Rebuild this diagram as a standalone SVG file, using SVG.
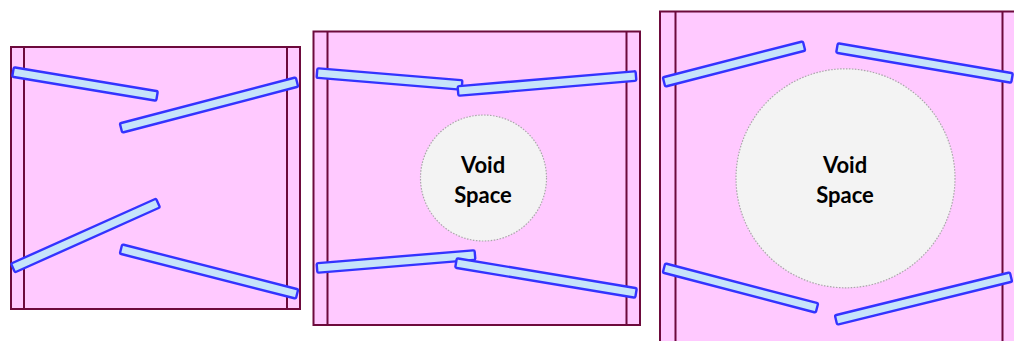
<svg xmlns="http://www.w3.org/2000/svg" width="1014" height="341" viewBox="0 0 1014 341">
  <style>
    .frame { fill: #ffc9ff; stroke: #6d0a3c; stroke-width: 2; }
    .rail { stroke: #6d0a3c; stroke-width: 2; }
    .bar { fill: #c6e4fa; stroke: #3333ff; stroke-width: 2.4; }
    .void { fill: #f3f3f3; stroke: #a8a8a8; stroke-width: 1.2; stroke-dasharray: 1.5 1.5; }
    .label { font-family: Lato, "Open Sans", sans-serif; font-weight: bold; font-size: 22px; fill: #000; text-anchor: middle; }
  </style>

  <!-- Left panel: four bars crossing freely -->
  <g id="panel-1">
    <rect class="frame" x="11" y="47" width="289" height="262"/>
    <line class="rail" x1="24" y1="47" x2="24" y2="309"/>
    <line class="rail" x1="287" y1="47" x2="287" y2="309"/>
    <rect class="bar" x="0" y="-4.8" width="146" height="9.6" rx="1.5" transform="translate(13 72) rotate(9.46)"/>
    <rect class="bar" x="0" y="-4.8" width="181.9" height="9.6" rx="1.5" transform="translate(121 128) rotate(-14.65)"/>
    <rect class="bar" x="0" y="-4.8" width="158.9" height="9.6" rx="1.5" transform="translate(13 268) rotate(-24.15)"/>
    <rect class="bar" x="0" y="-4.8" width="181.7" height="9.6" rx="1.5" transform="translate(121 249) rotate(14.34)"/>
  </g>

  <!-- Middle panel: bars meeting around a small void -->
  <g id="panel-2">
    <rect class="frame" x="313.5" y="31.5" width="326.5" height="293.5"/>
    <line class="rail" x1="327.5" y1="31.5" x2="327.5" y2="325"/>
    <line class="rail" x1="626.5" y1="31.5" x2="626.5" y2="325"/>
    <rect class="bar" x="0" y="-4.8" width="145.5" height="9.6" rx="1.5" transform="translate(317 73) rotate(4.73)"/>
    <rect class="bar" x="0" y="-4.8" width="178.6" height="9.6" rx="1.5" transform="translate(458 91) rotate(-4.82)"/>
    <rect class="bar" x="0" y="-4.8" width="158.5" height="9.6" rx="1.5" transform="translate(317 268) rotate(-4.70)"/>
    <rect class="bar" x="0" y="-4.8" width="182.5" height="9.6" rx="1.5" transform="translate(456 263) rotate(9.46)"/>
  </g>
  <g id="void-small">
    <circle class="void" cx="483.5" cy="178" r="63"/>
    <text class="label" x="483" y="173">Void</text>
    <text class="label" x="483" y="203">Space</text>
  </g>

  <!-- Right panel: bars pushed apart by a large void -->
  <g id="panel-3">
    <rect class="frame" x="660" y="11.5" width="360" height="340"/>
    <line class="rail" x1="675.5" y1="11.5" x2="675.5" y2="341"/>
    <line class="rail" x1="1002.5" y1="11.5" x2="1002.5" y2="341"/>
    <rect class="bar" x="0" y="-4.8" width="144.6" height="9.6" rx="1.5" transform="translate(664 82) rotate(-14.42)"/>
    <rect class="bar" x="0" y="-4.8" width="177.6" height="9.6" rx="1.5" transform="translate(837 48) rotate(9.73)"/>
    <rect class="bar" x="0" y="-4.8" width="158.1" height="9.6" rx="1.5" transform="translate(664 268) rotate(14.65)"/>
    <rect class="bar" x="0" y="-4.8" width="180.2" height="9.6" rx="1.5" transform="translate(836 320) rotate(-13.80)"/>
  </g>
  <g id="void-large">
    <circle class="void" cx="845.5" cy="178.3" r="109.5"/>
    <text class="label" x="845" y="173">Void</text>
    <text class="label" x="845" y="203">Space</text>
  </g>
</svg>
